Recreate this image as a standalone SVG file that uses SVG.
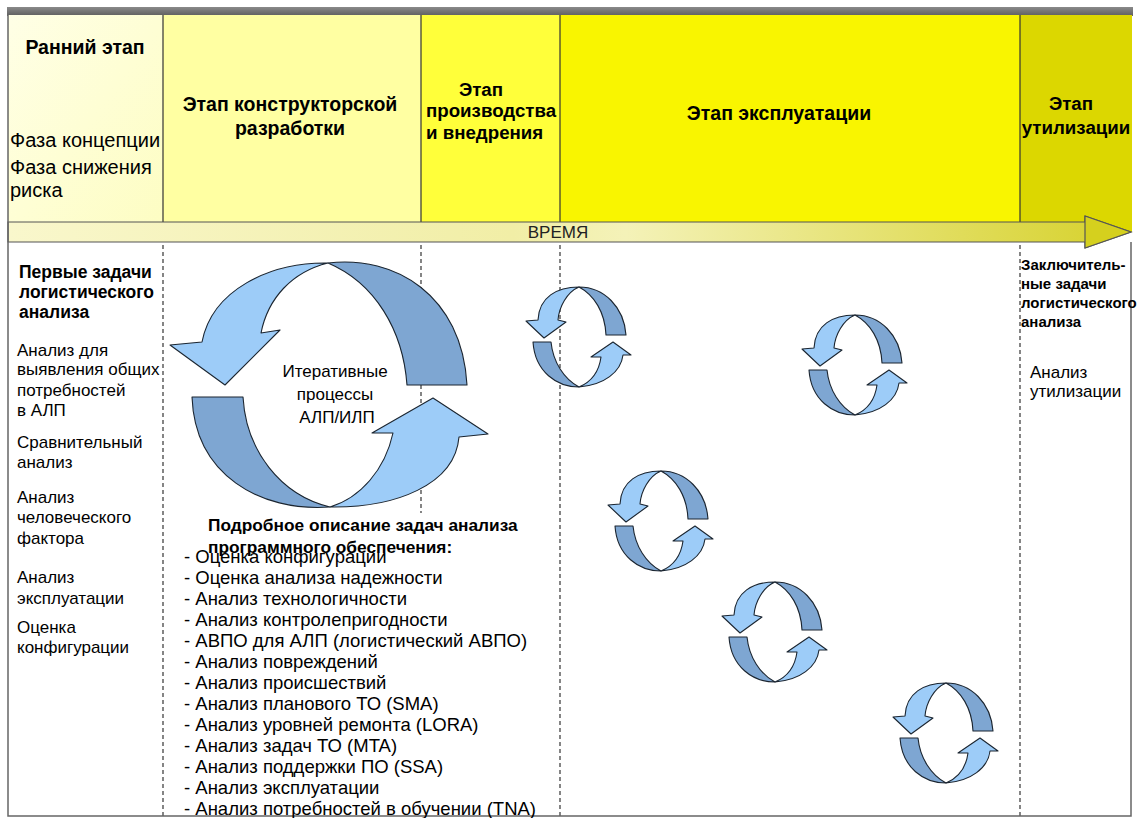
<svg xmlns="http://www.w3.org/2000/svg" xmlns:xlink="http://www.w3.org/1999/xlink" width="1146" height="818" viewBox="0 0 1146 818">
<defs>
<style>
text{font-family:"Liberation Sans",Arial,sans-serif;fill:#000}
.hb{font-size:19.5px;font-weight:bold}
.hbn{font-size:18.7px;font-weight:bold}
.hr{font-size:20px}
.lb{font-size:17.5px;font-weight:bold}
.lr{font-size:17px}
.rb{font-size:15px;font-weight:bold}
.tb{font-size:17.3px;font-weight:bold}
.li{font-size:18.5px}
.mid{text-anchor:middle}
.div{stroke:#333;stroke-width:1.2}
.dash{stroke:#444;stroke-width:1.3;stroke-dasharray:4 3;fill:none}
.border{stroke:#666;stroke-width:1.5;fill:none}
.lt{fill:#9DCCF8;stroke:#1b2530;stroke-width:1.1;stroke-linejoin:round}
.dk{fill:#7EA6D2;stroke:#1b2530;stroke-width:1.1;stroke-linejoin:round}
</style>
<linearGradient id="timeGrad" x1="0" y1="0" x2="1" y2="0">
<stop offset="0" stop-color="#F9F7CC"/>
<stop offset="0.45" stop-color="#F1EEA6"/>
<stop offset="0.55" stop-color="#F4F2B8"/>
<stop offset="1" stop-color="#D6D12A"/>
</linearGradient>
<linearGradient id="col1" x1="0" y1="0" x2="1" y2="1">
<stop offset="0" stop-color="#FFFFE6"/>
<stop offset="1" stop-color="#FDFDC2"/>
</linearGradient>
<linearGradient id="topbar" x1="0" y1="0" x2="0" y2="1">
<stop offset="0" stop-color="#8a8a8a"/>
<stop offset="1" stop-color="#5e5e5e"/>
</linearGradient>
<g id="smallCycle">
<path class="dk" d="M 0,-50 C 25,-50 45,-30 47,-2 L 27,-2 C 26,-25 15,-42 0,-50 Z"/>
<path class="lt" d="M 0,-50 C -22,-50 -40,-40 -41,-17 L -53,-16 L -35,1 L -13,-15 L -21,-17 C -20,-30 -12,-45 0,-50 Z"/>
<path class="dk" d="M -46,5 L -28,5 C -26,25 -15,42 0,50 C -22,50 -44,35 -46,5 Z"/>
<path class="lt" d="M 0,50 C 25,48 42,35 44,18 L 52,18 L 34,5 L 12,20 L 22,20 C 20,35 12,45 0,50 Z"/>
</g>
</defs>
<rect x="0" y="0" width="1146" height="818" fill="#fff"/>

<g id="header">
<rect x="7" y="7" width="1126" height="9" fill="url(#topbar)"/>
<rect x="8" y="15" width="155" height="217" fill="url(#col1)"/>
<rect x="163" y="15" width="258" height="217" fill="#FFFFA2"/>
<rect x="421" y="15" width="139" height="217" fill="#FFFF3A"/>
<rect x="560" y="15" width="460" height="217" fill="#F9F500"/>
<rect x="1020" y="15" width="112" height="217" fill="#DCD700"/>
<line class="div" x1="163" y1="15" x2="163" y2="222"/>
<line class="div" x1="421" y1="15" x2="421" y2="222"/>
<line class="div" x1="560" y1="15" x2="560" y2="222"/>
<line class="div" x1="1020" y1="15" x2="1020" y2="222"/>
</g>

<g id="stage-early">
<text class="hb mid" x="85" y="54">Ранний этап</text>
<text class="hr" x="10" y="147">Фаза концепции</text>
<text class="hr" x="10" y="174">Фаза снижения</text>
<text class="hr" x="10" y="197">риска</text>
</g>
<g id="stage-design">
<text class="hb mid" x="290" y="111">Этап конструкторской</text>
<text class="hb mid" x="290" y="135">разработки</text>
</g>
<g id="stage-production">
<text class="hbn mid" x="481" y="96">Этап</text>
<text class="hbn" x="426" y="117">производства</text>
<text class="hbn" x="426" y="139">и внедрения</text>
</g>
<g id="stage-operation">
<text class="hb mid" x="779" y="120">Этап эксплуатации</text>
</g>
<g id="stage-disposal">
<text class="hbn mid" x="1071" y="110">Этап</text>
<text class="hbn mid" x="1076" y="134">утилизации</text>
</g>

<g id="time-arrow">
<path d="M 8,222 L 1085,222 L 1085,216 L 1131,232 L 1085,248 L 1085,242 L 8,242 Z" fill="url(#timeGrad)" stroke="#555" stroke-width="1.2"/>
<path d="M 1085,216 L 1131,232 L 1085,248 Z" fill="#D5D01E" stroke="#555" stroke-width="1.2" stroke-linejoin="round"/>
<text class="mid" x="558" y="238" style="font-size:17px;fill:#222">ВРЕМЯ</text>
</g>

<g id="connectors">
<line class="dash" x1="163" y1="245" x2="163" y2="816"/>
<line class="dash" x1="421" y1="245" x2="421" y2="513"/>
<line class="dash" x1="560" y1="245" x2="560" y2="816"/>
<line class="dash" x1="1020" y1="245" x2="1020" y2="816"/>
<path class="border" d="M 8,15 L 8,816 L 1131,816 L 1131,242"/>
</g>

<g id="first-tasks">
<text class="lb" x="19" y="278">Первые задачи</text>
<text class="lb" x="19" y="298">логистического</text>
<text class="lb" x="19" y="318">анализа</text>
<text class="lr" x="17" y="356">Анализ для</text>
<text class="lr" x="17" y="375">выявления общих</text>
<text class="lr" x="17" y="396">потребностей</text>
<text class="lr" x="17" y="416">в АЛП</text>
<text class="lr" x="17" y="448">Сравнительный</text>
<text class="lr" x="17" y="468">анализ</text>
<text class="lr" x="17" y="503">Анализ</text>
<text class="lr" x="17" y="523">человеческого</text>
<text class="lr" x="17" y="544">фактора</text>
<text class="lr" x="17" y="583">Анализ</text>
<text class="lr" x="17" y="604">эксплуатации</text>
<text class="lr" x="17" y="633">Оценка</text>
<text class="lr" x="17" y="653">конфигурации</text>
</g>

<g id="big-cycle">
<path class="dk" d="M 328,263 C 395,255 462,295 467,385 L 407,385 C 403,330 375,283 328,263 Z"/>
<path class="lt" d="M 328,263 C 270,262 212,290 202,342 L 170,345 L 225,385 L 280,330 L 261,333 C 268,298 292,272 328,263 Z"/>
<path class="dk" d="M 192,397 L 243,397 C 246,450 280,495 330,507 C 260,512 195,475 192,397 Z"/>
<path class="lt" d="M 330,507 C 395,508 455,485 459,437 L 488,434 L 433,398 L 372,433 L 393,433 C 385,470 360,498 330,507 Z"/>
<text class="lr mid" x="335" y="377">Итеративные</text>
<text class="lr mid" x="335" y="400">процессы</text>
<text class="lr mid" x="337" y="423">АЛП/ИЛП</text>
</g>

<g id="cycle-1"><use href="#smallCycle" xlink:href="#smallCycle" transform="translate(579,337)"/></g>
<g id="cycle-2"><use href="#smallCycle" xlink:href="#smallCycle" transform="translate(855,365)"/></g>
<g id="cycle-3"><use href="#smallCycle" xlink:href="#smallCycle" transform="translate(661,521)"/></g>
<g id="cycle-4"><use href="#smallCycle" xlink:href="#smallCycle" transform="translate(775,632)"/></g>
<g id="cycle-5"><use href="#smallCycle" xlink:href="#smallCycle" transform="translate(946,733)"/></g>

<g id="software-tasks">
<text class="tb" x="208" y="531">Подробное описание задач анализа</text>
<text class="tb" x="208" y="553">программного обеспечения:</text>
<text class="li" x="184" y="563">- Оценка конфигурации</text>
<text class="li" x="184" y="584">- Оценка анализа надежности</text>
<text class="li" x="184" y="605">- Анализ технологичности</text>
<text class="li" x="184" y="626">- Анализ контролепригодности</text>
<text class="li" x="184" y="647">- АВПО для АЛП (логистический АВПО)</text>
<text class="li" x="184" y="668">- Анализ повреждений</text>
<text class="li" x="184" y="689">- Анализ происшествий</text>
<text class="li" x="184" y="710">- Анализ планового ТО (SMA)</text>
<text class="li" x="184" y="731">- Анализ уровней ремонта (LORA)</text>
<text class="li" x="184" y="752">- Анализ задач ТО (MTA)</text>
<text class="li" x="184" y="773">- Анализ поддержки ПО (SSA)</text>
<text class="li" x="184" y="794">- Анализ эксплуатации</text>
<text class="li" x="184" y="815">- Анализ потребностей в обучении (TNA)</text>
</g>

<g id="final-tasks">
<text class="rb" x="1021" y="270">Заключитель-</text>
<text class="rb" x="1021" y="289">ные задачи</text>
<text class="rb" x="1021" y="308">логистического</text>
<text class="rb" x="1021" y="327">анализа</text>
<text class="lr" x="1030" y="378">Анализ</text>
<text class="lr" x="1030" y="397">утилизации</text>
</g>
</svg>
